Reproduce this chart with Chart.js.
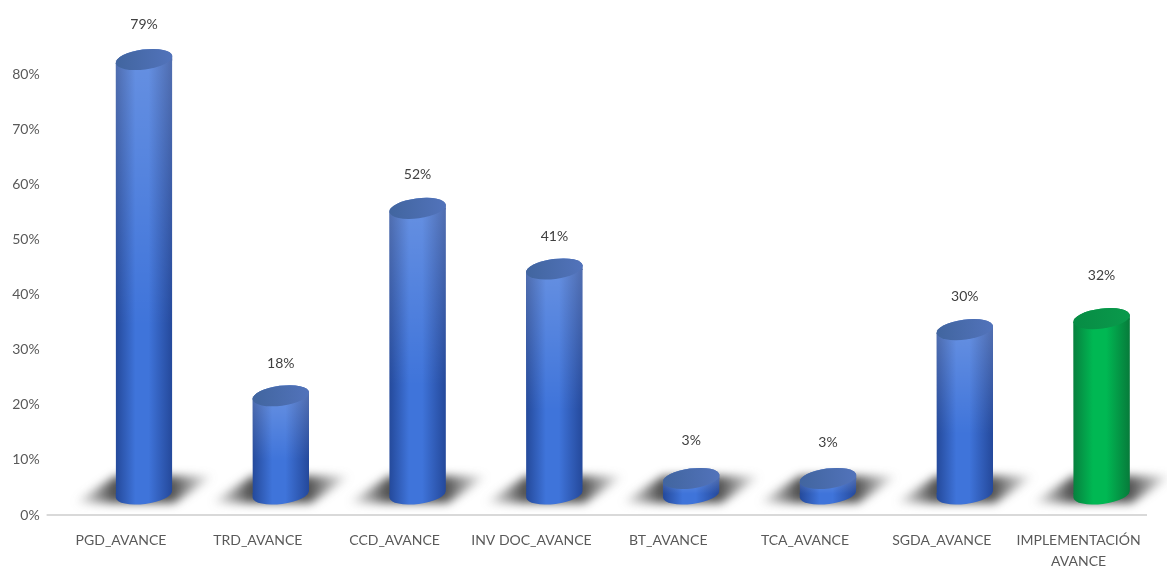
<!DOCTYPE html>
<html>
<head>
<meta charset="utf-8">
<style>
    html, body { margin: 0; padding: 0; background: #fff; }
    #wrap { width: 1167px; height: 569px; }
</style>
<script src="https://cdn.jsdelivr.net/npm/chart.js@4"></script>
</head>
<body>
<div id="wrap"><canvas id="avanceChart" width="1167" height="569"></canvas></div>
<script>
const categories = ['PGD_AVANCE', 'TRD_AVANCE', 'CCD_AVANCE', 'INV DOC_AVANCE', 'BT_AVANCE', 'TCA_AVANCE', 'SGDA_AVANCE', ['IMPLEMENTACIÓN', 'AVANCE']];
const avance = [79, 18, 52, 41, 3, 3, 30, 32];
const yTicks = [0, 10, 20, 30, 40, 50, 60, 70, 80];

const BLUE = { edgeL: '#24499a', mid: '#3f74da', edgeR: '#24489a', cap: '#41659f', capHi: '#5273bb' };
const GREEN = { edgeL: '#07803e', mid: '#00b853', edgeR: '#077a3a', cap: '#078c44', capHi: '#0a9a4c' };

// el cilindro esta desplazado respecto a la categoria, como en el 3D de Excel
const OFFSET_X = 23;
const OFFSET_Y = -20;
const RY = 10;
const TILT = -0.13;

// separacion de cada etiqueta sobre su barra (en el original estan movidas a mano)
const labelGap = [35, 32, 34, 33, 38, 36, 33, 43];

function palette(i) {
    return i === avance.length - 1 ? GREEN : BLUE;
}

function bodyGradient(ctx, x, w, i) {
    const p = palette(i);
    const g = ctx.createLinearGradient(x - w / 2, 0, x + w / 2, 0);
    g.addColorStop(0, p.edgeL);
    g.addColorStop(0.35, p.mid);
    g.addColorStop(0.58, p.mid);
    g.addColorStop(1, p.edgeR);
    return g;
}

function cylinderPath(ctx, bar) {
    const rx = bar.width / 2;
    ctx.moveTo(bar.x - rx, bar.y);
    ctx.ellipse(bar.x, bar.y, rx, RY, TILT, Math.PI, 2 * Math.PI);
    ctx.ellipse(bar.x, bar.base, rx, RY, TILT, 0, Math.PI);
    ctx.closePath();
}

function drawShadow(ctx, bar) {
    const b = bar.base;
    const x = bar.x;
    ctx.save();
    ctx.filter = 'blur(5px)';
    const g = ctx.createLinearGradient(x - 70, 0, x + 70, 0);
    g.addColorStop(0, 'rgba(70,70,70,0)');
    g.addColorStop(0.28, 'rgba(50,50,50,0.85)');
    g.addColorStop(0.7, 'rgba(50,50,50,0.85)');
    g.addColorStop(1, 'rgba(70,70,70,0)');
    ctx.fillStyle = g;
    ctx.beginPath();
    ctx.moveTo(x - 70, b + 9);
    ctx.lineTo(x - 28, b - 18);
    ctx.lineTo(x + 70, b - 18);
    ctx.lineTo(x + 30, b + 9);
    ctx.closePath();
    ctx.fill();
    ctx.restore();
}

const cylinderPlugin = {
    id: 'cylinder',
    beforeDatasetsDraw(chart) {
        const ctx = chart.ctx;
        const bars = chart.getDatasetMeta(0).data;
        ctx.save();
        ctx.translate(OFFSET_X, OFFSET_Y);
        bars.forEach(bar => drawShadow(ctx, bar));
        ctx.beginPath();
        bars.forEach(bar => cylinderPath(ctx, bar));
        ctx.clip();
    },
    afterDatasetsDraw(chart) {
        const ctx = chart.ctx;
        const bars = chart.getDatasetMeta(0).data;
        ctx.restore();
        ctx.save();
        ctx.translate(OFFSET_X, OFFSET_Y);
        bars.forEach((bar, i) => {
            const rx = bar.width / 2;
            const p = palette(i);

            // completar los extremos que el rectangulo de la barra no cubre
            ctx.save();
            ctx.beginPath();
            cylinderPath(ctx, bar);
            ctx.clip();
            ctx.fillStyle = bodyGradient(ctx, bar.x, bar.width, i);
            ctx.fillRect(bar.x - rx - 1, bar.y - RY - 6, bar.width + 2, RY + 7);
            ctx.fillRect(bar.x - rx - 1, bar.base - 1, bar.width + 2, RY + 7);
            ctx.restore();

            // brillo vertical solo en las barras azules
            if (p === BLUE) {
                const v = ctx.createLinearGradient(0, bar.y, 0, bar.base + RY);
                v.addColorStop(0, 'rgba(255,255,255,0.2)');
                v.addColorStop(0.6, 'rgba(255,255,255,0)');
                v.addColorStop(1, 'rgba(255,255,255,0)');
                ctx.fillStyle = v;
                ctx.beginPath();
                cylinderPath(ctx, bar);
                ctx.fill();
            }

            // tapa
            const c = ctx.createLinearGradient(bar.x - rx, 0, bar.x + rx, 0);
            c.addColorStop(0, p.cap);
            c.addColorStop(1, p.capHi);
            ctx.fillStyle = c;
            ctx.beginPath();
            ctx.ellipse(bar.x, bar.y, rx, RY, TILT, 0, 2 * Math.PI);
            ctx.fill();

            // etiqueta de valor
            ctx.fillStyle = '#404040';
            ctx.font = '14px Lato';
            ctx.textAlign = 'center';
            ctx.textBaseline = 'middle';
            ctx.fillText(avance[i] + '%', bar.x, bar.y - labelGap[i]);
        });
        ctx.restore();
    }
};

new Chart(document.getElementById('avanceChart'), {
    type: 'bar',
    data: {
        labels: categories,
        datasets: [{
            data: avance,
            clip: false,
            borderWidth: 0,
            categoryPercentage: 1,
            barPercentage: 0.416,
            backgroundColor: c => {
                if (c.dataIndex === undefined || !c.chart.chartArea) return BLUE.mid;
                const x = c.chart.scales.x.getPixelForTick(c.dataIndex);
                return bodyGradient(c.chart.ctx, x, 57, c.dataIndex);
            }
        }]
    },
    options: {
        responsive: false,
        animation: false,
        devicePixelRatio: 1,
        layout: { padding: { top: 74, right: 20, bottom: 0, left: 0 } },
        plugins: {
            legend: { display: false },
            tooltip: { enabled: false },
            title: { display: false }
        },
        scales: {
            x: {
                afterFit: scale => { scale.height = 54; },
                grid: { display: false },
                border: { display: false },
                ticks: {
                    color: '#595959',
                    font: { family: 'Lato', size: 14, lineHeight: 1.57 },
                    padding: 6,
                    maxRotation: 0,
                    autoSkip: false
                }
            },
            y: {
                min: 0,
                max: 80,
                afterFit: scale => { scale.width = 52.6; },
                afterBuildTicks: scale => { scale.ticks = yTicks.map(value => ({ value })); },
                border: { display: false },
                grid: {
                    color: c => c.tick && c.tick.value === 0 ? '#d9d9d9' : 'transparent',
                    lineWidth: 2,
                    tickLength: 6
                },
                ticks: {
                    color: '#595959',
                    font: { family: 'Lato', size: 14 },
                    padding: 7,
                    callback: v => v + '%'
                }
            }
        }
    },
    plugins: [cylinderPlugin]
});
</script>
</body>
</html>
